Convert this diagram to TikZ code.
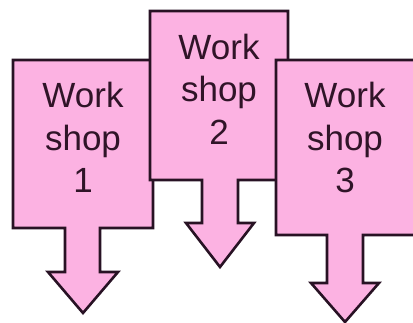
\documentclass[tikz,border=0pt]{standalone}
\usepackage{fontspec}
\setmainfont{Liberation Sans}
\definecolor{pinkfill}{RGB}{252,178,226}
\definecolor{edgecol}{RGB}{40,18,36}
\definecolor{txtcol}{RGB}{48,20,40}
\begin{document}
\begin{tikzpicture}[x=1pt,y=-1pt,
  callout/.style={fill=pinkfill,draw=edgecol,line width=2.6pt,line join=miter},
  label/.style={anchor=north,inner sep=0pt,align=center,text=txtcol,
    font=\fontsize{35pt}{42.5pt}\selectfont}]
\useasboundingbox (0,0) rectangle (413,323);
\begin{scope}
\clip (0,0) rectangle (413,323);
% callout 1
\draw[callout] (13,60) -- (153,60) -- (153,228) -- (100,228) -- (100,272) -- (118,272)
  -- (83,313) -- (48,272) -- (65,272) -- (65,228) -- (13,228) -- cycle;
\node[label] (w1) at (83,82) {Work\\shop\\1};
% callout 2
\draw[callout] (150,11) -- (288,11) -- (288,180) -- (238,180) -- (238,223) -- (254,223)
  -- (220,267) -- (186,223) -- (202,223) -- (202,180) -- (150,180) -- cycle;
\node[label] (w2) at (219,33.5) {Work\\shop\\2};
% callout 3
\draw[callout] (276,60) -- (420,60) -- (420,235) -- (363,235) -- (363,283) -- (379,283)
  -- (345,322) -- (311,283) -- (327,283) -- (327,235) -- (276,235) -- cycle;
\node[label] (w3) at (345,82) {Work\\shop\\3};
\end{scope}
\end{tikzpicture}
\end{document}
